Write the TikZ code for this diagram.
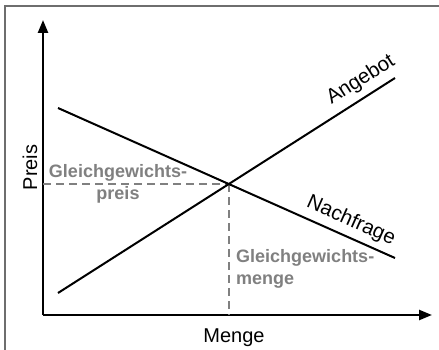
\documentclass[tikz,border=0pt]{standalone}
\usepackage{fontspec}
\setmainfont{Liberation Sans}
\usetikzlibrary{arrows.meta}
\definecolor{lblgray}{RGB}{128,128,128}
\definecolor{framegray}{RGB}{110,110,110}
\begin{document}
\begin{tikzpicture}[x=1pt,y=-1pt,
  axis/.style={line width=2.4pt,-{Triangle[length=13pt,width=10pt]}},
  curve/.style={line width=2pt},
  guide/.style={lblgray,line width=2pt,dash pattern=on 8pt off 5pt},
  axlabel/.style={inner sep=0pt,font=\fontsize{20}{23}\selectfont},
  eqlabel/.style={inner sep=0pt,text=lblgray,font=\fontsize{18}{22}\selectfont\bfseries},
  curvelabel/.style={inner sep=0pt,font=\fontsize{20.5}{23}\selectfont}]
\useasboundingbox (0,0) rectangle (439,350);
\draw[framegray,line width=1.3pt] (5,6) rectangle (460,370);
% axes
\coordinate (O) at (43,315);
\coordinate (ytip) at (43,20);
\coordinate (xtip) at (432,315);
\draw[axis] (O) -- (ytip);
\draw[axis] (O) -- (xtip);
% curves
\coordinate (d1) at (58,108);
\coordinate (d2) at (395,258);
\coordinate (s1) at (58,293);
\coordinate (s2) at (395,78);
\coordinate (E) at (229,184);
\coordinate (Ey) at (43,184);
\coordinate (Ex) at (229,315);
\draw[guide] (Ey) -- (E);
\draw[guide] (E) -- (Ex);
\draw[curve] (d1) -- (d2);
\draw[curve] (s1) -- (s2);
% labels
\node[axlabel,rotate=90] (preis) at (30,167.5) {Preis};
\node[axlabel,anchor=base] (menge) at (234,342) {Menge};
\node[curvelabel,rotate=32.5] (angebot) at (361,80) {Angebot};
\node[curvelabel,rotate=-24] (nachfrage) at (351,221) {Nachfrage};
\node[eqlabel,align=center] (gp) at (118,183.5) {Gleichgewichts-\\preis};
\node[eqlabel,align=left,anchor=west] (gm) at (236,268.4) {Gleichgewichts-\\menge};
\end{tikzpicture}
\end{document}
